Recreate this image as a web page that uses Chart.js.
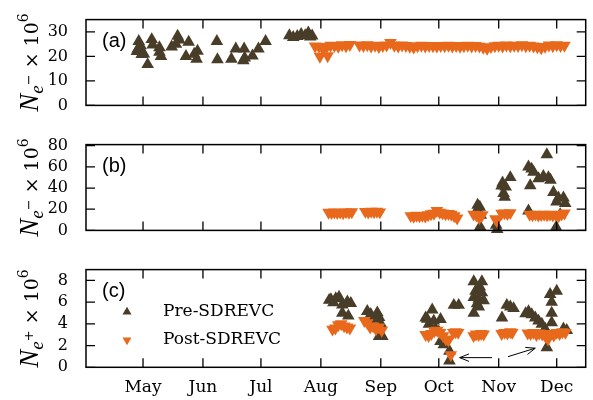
<!DOCTYPE html>
<html>
<head>
<meta charset="utf-8">
<script src="https://cdn.jsdelivr.net/npm/chart.js@4.4.1/dist/chart.umd.min.js"></script>
<style>
  html, body { margin: 0; padding: 0; background: #fff; width: 593px; height: 400px; overflow: hidden; }
  .panel { position: absolute; left: 0; width: 593px; }
</style>
</head>
<body>
<div class="panel" style="top:0;height:125px"><canvas id="chartA"></canvas></div>
<div class="panel" style="top:125px;height:125px"><canvas id="chartB"></canvas></div>
<div class="panel" style="top:250px;height:150px"><canvas id="chartC"></canvas></div>
<script>
// x values are day of year (Jan 1 = 0)
const monthStarts = [120, 151, 181, 212, 243, 273, 304, 334];
const monthLabels = ["May", "Jun", "Jul", "Aug", "Sep", "Oct", "Nov", "Dec"];
const xMin = 90.5, xMax = 349;

// panel (a): N e- , first detector
const preADays = [117.8, 118.7, 117.3, 116.8, 120.4, 119.3, 118.8, 122.4, 124.5, 125.0,
  128.5, 129.3, 128.5, 134.8, 137.9, 138.8, 137.0, 143.6, 142.2, 146.5,
  148.2, 147.7, 158.2, 158.5, 165.7, 168.0, 172.3, 172.6, 171.9, 176.6,
  179.7, 183.4, 195.7, 197.7, 199.8, 201.8, 203.9, 205.5, 206.5, 207.5];
const preAVals = [26.1, 24.4, 23.0, 22.0, 21.0, 20.8, 22.8, 16.7, 26.9, 24.7,
  23.6, 20.0, 21.7, 23.9, 28.3, 26.7, 25.0, 25.8, 20.0, 20.9,
  22.2, 18.9, 26.1, 18.7, 18.9, 23.1, 23.1, 19.4, 18.3, 20.2,
  23.1, 26.1, 28.5, 27.8, 28.2, 29.0, 28.5, 29.6, 28.0, 28.4];
const postADays = [209, 211, 211.5, 213, 215, 215.5, 217, 219, 221, 223, 225, 227,
  232, 234, 236, 238, 240, 242, 244, 246, 248, 250, 252, 254, 256, 258, 260, 262,
  264, 266, 268, 270, 272, 274, 276, 278, 280, 282, 284, 286, 288, 290, 292, 294,
  296, 298, 300, 302, 304, 306, 308, 310, 312, 314, 316, 318, 320, 322, 324, 326,
  328, 330, 332, 334, 336, 338];
const postAVals = [24.2, 24.0, 20.0, 23.0, 23.8, 20.2, 24.5, 24.4, 24.0, 24.7, 24.3, 24.8,
  24.6, 24.4, 24.7, 24.2, 24.5, 23.9, 24.4, 24.6, 25.6, 24.5, 24.2, 24.6, 24.4, 24.0, 23.7, 24.3,
  24.5, 24.2, 24.4, 24.3, 24.1, 24.4, 24.3, 24.5, 24.2, 24.4, 24.0, 24.3, 24.5, 24.2, 24.4, 24.1,
  23.6, 23.2, 23.9, 24.3, 24.5, 24.1, 24.6, 24.3, 24.5, 24.4, 24.7, 24.3, 24.5, 24.2, 23.8, 23.4,
  24.0, 24.6, 24.3, 24.7, 24.4, 24.5];

// panel (b): N e- , second detector
const preBDays = [293.1, 292.6, 294.7, 294.2, 294.4, 302.7, 303.2, 306.0, 310.0, 307.6,
  306.5, 307.1, 305.5, 319.4, 321.0, 322.0, 324.6, 327.1, 328.9, 329.7,
  330.8, 320.3, 332.3, 333.9, 334.9, 337.5, 338.4, 319.4, 335.8, 333.7];
const preBVals = [24.0, 18.5, 14.5, 22.0, 3.5, 5.0, 1.0, 45.0, 50.0, 41.0,
  35.0, 31.5, 42.0, 60.0, 58.0, 55.0, 49.0, 51.0, 71.5, 50.0,
  47.5, 42.3, 36.0, 27.0, 30.7, 30.7, 25.5, 18.5, 15.0, 3.0];
const postBDays = [216, 217.5, 219, 220.5, 222, 223.5, 225, 226.5, 228,
  235, 236.5, 238, 239.5, 241, 242.5,
  258.5, 260, 261.5, 263, 264.5, 266, 267.5, 269, 270.5, 272, 273.5, 275, 276.5, 278, 279.5, 281, 282.5,
  291, 292.5, 294, 295.5,
  302.3, 303.0,
  305.5, 307, 308.5, 310,
  320, 321.5, 323, 324.5, 326, 327.5, 329, 330.5, 332, 333.5, 335, 336.5, 338];
const postBVals = [17.0, 16.6, 17.2, 16.8, 17.1, 16.5, 17.3, 16.9, 17.4,
  17.8, 17.2, 18.0, 17.5, 17.9, 17.3,
  13.8, 13.2, 14.2, 13.6, 14.0, 13.4, 14.6, 15.6, 16.0, 18.6, 17.0, 16.2, 15.6, 15.8, 15.0, 13.6, 11.6,
  15.2, 14.4, 11.8, 14.6,
  10.8, 9.2,
  16.0, 16.4, 15.8, 16.6,
  15.0, 14.6, 15.2, 14.4, 14.9, 15.1, 14.5, 15.0, 14.3, 14.8, 13.6, 15.2, 16.2];

// panel (c): N e+
const preCDays = [216.3, 217.2, 219.7, 221.4, 223.1, 223.1, 225.7, 227.5, 226.2, 218.5,
  236.0, 237.8, 236.9, 239.5, 241.2, 242.1, 243.0, 242.1, 243.8,
  266.2, 267.0, 267.9, 269.6, 270.4, 271.3, 273.0, 273.9, 273.9, 275.6, 278.5, 278.5, 280.8, 283.3,
  291.1, 291.1, 291.1, 292.0, 292.8, 293.7, 293.7, 294.2, 295.3, 295.3, 296.2,
  305.7, 308.2, 310.0, 311.7,
  317.9, 319.4, 321.1, 322.9, 324.6, 326.3, 327.2, 328.0, 328.9, 330.6, 331.4, 331.4, 331.4, 334.0, 337.5, 339.2];
const preCVals = [6.18, 6.24, 6.33, 6.46, 5.75, 5.0, 6.03, 5.89, 4.73, 5.95,
  5.16, 4.88, 4.45, 4.45, 5.03, 4.59, 4.01, 2.86, 2.86,
  4.56, 4.45, 3.99, 5.29, 4.27, 3.55, 3.26, 4.42, 2.39, 2.1, 1.5, 0.6, 5.72, 5.72,
  7.89, 6.44, 4.99, 7.02, 5.86, 6.29, 5.57, 7.4, 7.89, 6.87, 6.15,
  4.56, 5.72, 5.57, 5.42,
  4.95, 5.14, 4.85, 4.56, 4.27, 3.99, 3.26, 3.55, 1.82, 6.72, 6.0, 4.99, 4.12, 7.02, 3.55, 3.41];
const postCDays = [218, 219.5, 221, 222.5, 224, 225.5, 227,
  234.5, 236, 237.5, 239, 240.5, 242, 243.5,
  266.2, 267.7, 269.2, 270.7, 272.2, 273.7, 275.2, 276.7, 278, 279.2,
  280.5, 281.7, 283,
  291, 292.3, 293.6, 294.9, 296.2,
  305.5, 307, 308.5, 310, 311,
  319, 320.5, 322, 323.5, 325, 326.5, 328, 329.5, 331, 332.5, 334, 335.5, 337, 338.5];
const postCVals = [3.5, 3.6, 3.9, 4.0, 3.8, 3.7, 3.6,
  4.3, 4.1, 3.7, 3.8, 3.5, 3.7, 3.4,
  3.0, 2.9, 3.1, 3.35, 3.4, 3.2, 2.9, 2.6, 2.5, 1.15,
  3.2, 3.25, 3.2,
  2.9, 3.05, 3.0, 3.1, 3.05,
  3.1, 3.2, 3.15, 3.25, 3.2,
  3.15, 3.1, 3.2, 3.0, 3.15, 3.05, 2.9, 2.6, 3.1, 2.95, 3.2, 3.1, 3.25, 3.2];

// arrows in panel (c): [x0, y0, x1, y1], head at x1,y1
const arrowsC = [[300.5, 0.89, 283.8, 0.89], [308.8, 0.98, 322.9, 1.76]];

const preColor = "#483d28";
const postColor = "#e8691c";
const serif = "'DejaVu Serif', serif";

function points(days, vals) {
    return days.map((d, i) => ({ x: d, y: vals[i] }));
}

function preSet(days, vals) {
    return {
        label: "Pre-SDREVC",
        data: points(days, vals),
        pointStyle: "triangle",
        pointRadius: 7.3,
        pointBorderWidth: 0,
        backgroundColor: preColor,
        borderColor: preColor,
        order: 1,
        clip: false,
    };
}

function postSet(days, vals) {
    return {
        label: "Post-SDREVC",
        data: points(days, vals),
        pointStyle: "triangle",
        pointRotation: 180,
        pointRadius: 7.3,
        pointBorderWidth: 0,
        backgroundColor: postColor,
        borderColor: postColor,
        order: 0,
        clip: false,
    };
}

// box round the plot, inward ticks on all four sides, panel letter and y title
function panelDecor(letter, charge) {
    return {
        id: "decor" + letter,
        afterDatasetsDraw(chart) {
            const { ctx, chartArea: a, scales } = chart;
            const len = 9;
            ctx.save();
            ctx.strokeStyle = "#000";
            ctx.lineWidth = 1.5;
            ctx.strokeRect(a.left, a.top, a.right - a.left, a.bottom - a.top);
            ctx.lineWidth = 1.3;
            ctx.beginPath();
            scales.x.ticks.forEach((t) => {
                const px = scales.x.getPixelForValue(t.value);
                ctx.moveTo(px, a.bottom);
                ctx.lineTo(px, a.bottom - len);
                ctx.moveTo(px, a.top);
                ctx.lineTo(px, a.top + len);
            });
            scales.y.ticks.forEach((t) => {
                const py = scales.y.getPixelForValue(t.value);
                ctx.moveTo(a.left, py);
                ctx.lineTo(a.left + len, py);
                ctx.moveTo(a.right, py);
                ctx.lineTo(a.right - len, py);
            });
            ctx.stroke();

            ctx.fillStyle = "#000";
            ctx.font = "20px 'Liberation Sans', sans-serif";
            ctx.textBaseline = "middle";
            ctx.textAlign = "left";
            ctx.fillText("(" + letter + ")", a.left + 16, a.top + 22);

            // N_{e±} × 10^6, rotated
            const parts = [
                { t: "N", font: "italic 27px 'Liberation Serif', serif", dy: 0 },
                { t: "e", font: "italic 19px 'Liberation Serif', serif", dy: 5 },
                { t: charge, font: "13px " + serif, dy: -5 },
                { t: " \u00d7 10", font: "19px " + serif, dy: 0 },
                { t: "6", font: "14px " + serif, dy: -10 },
            ];
            let total = 0;
            parts.forEach((p) => {
                ctx.font = p.font;
                p.w = ctx.measureText(p.t).width;
                total += p.w;
            });
            ctx.translate(38, (a.top + a.bottom) / 2);
            ctx.rotate(-Math.PI / 2);
            ctx.textBaseline = "alphabetic";
            let x = -total / 2;
            parts.forEach((p) => {
                ctx.font = p.font;
                ctx.fillText(p.t, x, p.dy);
                x += p.w;
            });
            ctx.restore();
        },
    };
}

const legendAndArrows = {
    id: "legendAndArrows",
    afterDatasetsDraw(chart) {
        const { ctx, scales } = chart;
        ctx.save();
        const rows = [
            { ds: chart.data.datasets[0], y: 312 - 250 },
            { ds: chart.data.datasets[1], y: 340 - 250 },
        ];
        rows.forEach((r) => {
            ctx.fillStyle = r.ds.backgroundColor;
            Chart.helpers.drawPoint(ctx, {
                pointStyle: "triangle",
                rotation: r.ds.pointRotation || 0,
                radius: 5.2,
                borderWidth: 0,
            }, 127, r.y);
            ctx.fillStyle = "#000";
            ctx.font = "17px " + serif;
            ctx.textBaseline = "middle";
            ctx.fillText(r.ds.label, 163, r.y);
        });

        ctx.strokeStyle = "#000";
        ctx.lineWidth = 1;
        arrowsC.forEach(([x0, y0, x1, y1]) => {
            const p0 = [scales.x.getPixelForValue(x0), scales.y.getPixelForValue(y0)];
            const p1 = [scales.x.getPixelForValue(x1), scales.y.getPixelForValue(y1)];
            const ang = Math.atan2(p1[1] - p0[1], p1[0] - p0[0]);
            const h = 10, spread = 0.38;
            ctx.beginPath();
            ctx.moveTo(p0[0], p0[1]);
            ctx.lineTo(p1[0], p1[1]);
            ctx.moveTo(p1[0] - h * Math.cos(ang - spread), p1[1] - h * Math.sin(ang - spread));
            ctx.lineTo(p1[0], p1[1]);
            ctx.lineTo(p1[0] - h * Math.cos(ang + spread), p1[1] - h * Math.sin(ang + spread));
            ctx.stroke();
        });
        ctx.restore();
    },
};

function makeChart(id, cfg) {
    const ctx = document.getElementById(id).getContext("2d");
    return new Chart(ctx, {
        type: "scatter",
        data: { datasets: cfg.datasets },
        options: {
            responsive: true,
            maintainAspectRatio: false,
            animation: false,
            events: [],
            layout: { padding: { top: cfg.top, right: 6, left: 0, bottom: 0 } },
            plugins: {
                legend: { display: false },
                tooltip: { enabled: false },
            },
            scales: {
                x: {
                    type: "linear",
                    min: xMin,
                    max: xMax,
                    afterBuildTicks: (s) => {
                        s.ticks = monthStarts.map((v) => ({ value: v }));
                    },
                    afterFit: (s) => {
                        s.height = cfg.xHeight;
                    },
                    grid: { display: false },
                    border: { display: false },
                    ticks: {
                        display: cfg.showMonths,
                        autoSkip: false,
                        maxRotation: 0,
                        padding: 2,
                        color: "#000",
                        font: { family: serif, size: 17 },
                        callback: (v, i) => monthLabels[i],
                    },
                },
                y: {
                    min: 0,
                    max: cfg.yMax,
                    afterFit: (s) => {
                        s.width = 86;
                    },
                    grid: { display: false },
                    border: { display: false },
                    ticks: {
                        stepSize: cfg.yStep,
                        includeBounds: false,
                        padding: 10,
                        color: "#000",
                        font: { family: serif, size: 16 },
                    },
                },
            },
        },
        plugins: cfg.plugins,
    });
}

makeChart("chartA", {
    datasets: [preSet(preADays, preAVals), postSet(postADays, postAVals)],
    top: 10, xHeight: 9, yMax: 35, yStep: 10, showMonths: false,
    plugins: [panelDecor("a", "\u2212")],
});

makeChart("chartB", {
    datasets: [preSet(preBDays, preBVals), postSet(postBDays, postBVals)],
    top: 12, xHeight: 8.3, yMax: 81, yStep: 20, showMonths: false,
    plugins: [panelDecor("b", "\u2212")],
});

makeChart("chartC", {
    datasets: [preSet(preCDays, preCVals), postSet(postCDays, postCVals)],
    top: 13.3, xHeight: 32.7, yMax: 9, yStep: 2, showMonths: true,
    plugins: [panelDecor("c", "+"), legendAndArrows],
});
</script>
</body>
</html>
